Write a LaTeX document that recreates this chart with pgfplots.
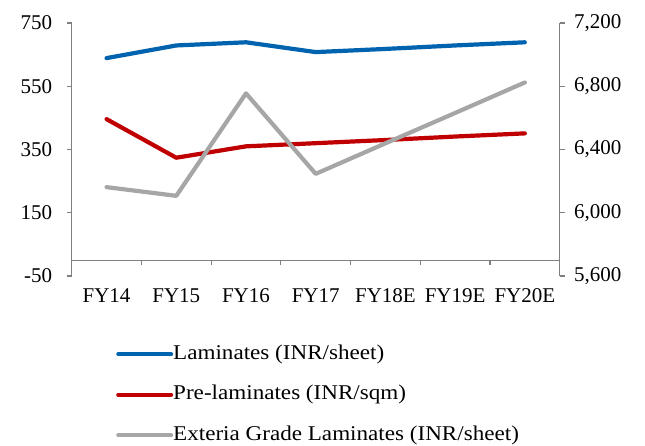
\documentclass[border=0pt]{standalone}
\usepackage{fontspec}
\setmainfont{Liberation Serif}
\newfontfamily\legendfamily[FakeStretch=1.1]{Liberation Serif}
\usepackage{pgfplots}
\pgfplotsset{compat=1.18}

\definecolor{lamblue}{RGB}{0,99,175}
\definecolor{prered}{RGB}{192,0,0}
\definecolor{extgray}{RGB}{166,166,166}
\definecolor{axgray}{RGB}{128,128,128}

\newcommand{\chartfont}{\fontsize{21bp}{24bp}\selectfont}
\newcommand{\legendfont}{\legendfamily\fontsize{21bp}{24bp}\selectfont}

\pgfplotsset{
  base/.style={
    scale only axis, width=488bp, height=253bp,
    xmin=-0.5, xmax=6.5,
    tick align=outside,
    major tick length=5bp,
    y axis line style={draw=axgray, line width=1.2bp},
    ytick style={draw=axgray, line width=1.2bp},
    tick label style={font=\chartfont},
    /pgf/number format/assume math mode=true,
    /pgf/number format/1000 sep={,},
    clip=false,
  },
  series/.style={line width=4.2bp, line cap=round, line join=round},
}

\begin{document}
\begin{tikzpicture}
% page frame around the plot area
\useasboundingbox (-71.7bp,-170bp) rectangle (573.3bp,276bp);
\begin{axis}[
  base,
  ymin=-50, ymax=750,
  ytick={-50,150,350,550,750},
  axis y line*=left,
  axis x line*=bottom,
  x axis line style={draw=none},
  xtick={0,1,2,3,4,5,6},
  xticklabels={FY14,FY15,FY16,FY17,FY18E,FY19E,FY20E},
  xtick style={draw=none},
  xticklabel style={yshift=-4bp},
  yticklabel style={xshift=-11bp},
  legend style={
    at={(0.0908,-0.269)}, anchor=north west,
    draw=none, fill=none, font=\legendfont, inner sep=0pt,
    nodes={inner sep=0pt, text height=15bp, text depth=5bp},
    row sep=20.5bp,
    /tikz/every even column/.append style={column sep=3bp},
  },
  legend cell align=left,
  legend image code/.code={\draw[#1, line width=4bp, line cap=round] (2bp,0bp) -- (55bp,0bp);},
]
% horizontal axis crosses at zero, with category separators below it
\draw[axgray, line width=1.2bp] (axis cs:-0.5,0) -- (axis cs:6.5,0);
\draw[axgray, line width=1.2bp] (axis cs:0.5,0) -- ([yshift=-5bp]axis cs:0.5,0);
\draw[axgray, line width=1.2bp] (axis cs:1.5,0) -- ([yshift=-5bp]axis cs:1.5,0);
\draw[axgray, line width=1.2bp] (axis cs:2.5,0) -- ([yshift=-5bp]axis cs:2.5,0);
\draw[axgray, line width=1.2bp] (axis cs:3.5,0) -- ([yshift=-5bp]axis cs:3.5,0);
\draw[axgray, line width=1.2bp] (axis cs:4.5,0) -- ([yshift=-5bp]axis cs:4.5,0);
\draw[axgray, line width=1.2bp] (axis cs:5.5,0) -- ([yshift=-5bp]axis cs:5.5,0);

\addplot[series, lamblue] coordinates {
  (0,639) (1,679) (2,689) (3,658) (4,668) (5,679) (6,689)};
\addlegendentry{Laminates (INR/sheet)}
\addplot[series, prered] coordinates {
  (0,446) (1,324) (2,360) (3,370) (4,380) (5,391) (6,401)};
\addlegendentry{Pre-laminates (INR/sqm)}
\addlegendimage{extgray}
\addlegendentry{Exteria Grade Laminates (INR/sheet)}
\end{axis}

\begin{axis}[
  base,
  ymin=5600, ymax=7200,
  ytick={5600,6000,6400,6800,7200},
  axis y line*=right,
  axis x line=none,
  yticklabel style={xshift=6bp},
]
\addplot[series, extgray] coordinates {
  (0,6162) (1,6107) (2,6755) (3,6246) (4,6439) (5,6631) (6,6824)};
\end{axis}
\end{tikzpicture}
\end{document}
